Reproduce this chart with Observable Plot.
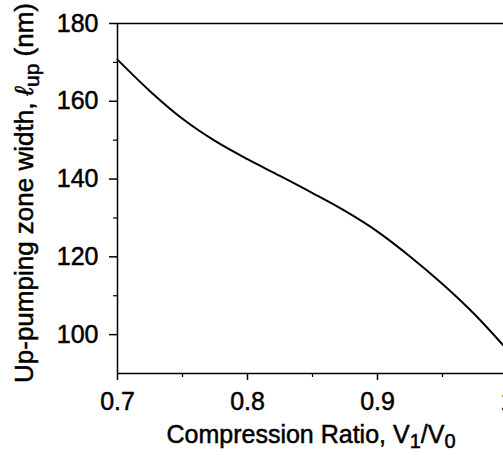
<!DOCTYPE html>
<html>
<head>
<meta charset="utf-8">
<script src="https://cdn.jsdelivr.net/npm/d3@7"></script>
<script src="https://cdn.jsdelivr.net/npm/@observablehq/plot@0.6"></script>
<style>
  html, body { margin: 0; padding: 0; background: #fff; overflow: hidden; }
  #chart { width: 503px; height: 455px; }
  #chart svg text { stroke: #000; stroke-width: 0.5px; paint-order: stroke; }
</style>
</head>
<body>
<div id="chart"></div>
<script>
// Data
const ratio = [0.7, 0.725, 0.75, 0.775, 0.8, 0.825, 0.85, 0.875, 0.9, 0.925, 0.95, 0.975, 1.0];
const width_up = [170.7, 162.6, 155.5, 149.8, 145.1, 140.8, 136.4, 131.8, 126.5, 120.1, 113.0, 105.1, 96.0];
const xTicks = [0.7, 0.8, 0.9, 1.0];
const xMinor = [0.75, 0.85, 0.95];
const yTicks = [100, 120, 140, 160, 180];
const yMinor = [110, 130, 150, 170];

const data = ratio.map((r, i) => ({r, w: width_up[i]}));
const font = "'Liberation Sans', Arial, Helvetica, sans-serif";

const chart = Plot.plot({
  width: 503,
  height: 455,
  marginLeft: 117,
  marginRight: 0,
  marginTop: 23,
  marginBottom: 82,
  style: {fontFamily: font, fontSize: "25px", background: "#fff", color: "#000", overflow: "hidden"},
  x: {domain: [0.7, 1.0], range: [117, 507]},
  y: {domain: [90, 180]},
  marks: [
    Plot.axisY(yTicks, {tickSize: 8, tickPadding: 11, strokeWidth: 1.5, fontSize: 25, label: null, tickFormat: d => String(d)}),
    Plot.axisY(yMinor, {tickSize: 4, strokeWidth: 1.2, label: null, tickFormat: () => ""}),
    Plot.axisX(xTicks, {tickSize: 7, tickPadding: 12, strokeWidth: 1.5, fontSize: 25, label: null, tickFormat: d => d === 1 ? "1" : d.toFixed(1)}),
    Plot.axisX(xMinor, {tickSize: 4, strokeWidth: 1.2, label: null, tickFormat: () => ""}),
    Plot.ruleX([0.7], {stroke: "#000", strokeWidth: 1.5}),
    Plot.ruleY([90], {stroke: "#000", strokeWidth: 1.5}),
    Plot.ruleY([180], {stroke: "#000", strokeWidth: 1.5}),
    Plot.line(data, {x: "r", y: "w", stroke: "#000", strokeWidth: 2, curve: "catmull-rom"})
  ]
});

document.getElementById("chart").appendChild(chart);

const svg = d3.select(chart);
// x axis label with subscripts
const xl = svg.append("text")
  .attr("x", 311).attr("y", 443)
  .attr("text-anchor", "middle")
  .style("font-family", font).style("font-size", "25px").attr("fill", "#000");
xl.append("tspan").text("Compression Ratio, V");
xl.append("tspan").attr("dy", 5).style("font-size", "20px").text("1");
xl.append("tspan").attr("dy", -5).text("/V");
xl.append("tspan").attr("dy", 5).style("font-size", "20px").text("0");

// y axis label with subscript
const yl = svg.append("text")
  .attr("transform", "translate(33,193) rotate(-90)")
  .attr("text-anchor", "middle")
  .style("font-family", font).style("font-size", "26px").attr("fill", "#000");
yl.append("tspan").text("Up-pumping zone width, ");
yl.append("tspan").style("font-style", "italic").text("ℓ");
yl.append("tspan").attr("dy", 6).style("font-size", "21px").text("up");
yl.append("tspan").attr("dy", -6).text(" (nm)");
</script>
</body>
</html>
